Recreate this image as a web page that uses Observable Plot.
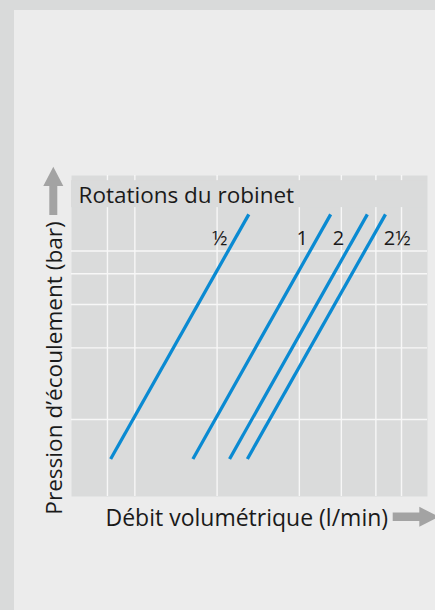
<!DOCTYPE html>
<html><head><meta charset="utf-8">
<script src="https://cdn.jsdelivr.net/npm/d3@7"></script>
<script src="https://cdn.jsdelivr.net/npm/@observablehq/plot@0.6"></script>
<style>
html,body{margin:0;padding:0;width:435px;height:610px;overflow:hidden;background:#d9dada;}
#panel{position:absolute;left:14px;top:10px;right:0;bottom:0;background:#ececec;}
#chart{position:absolute;left:0;top:0;}
</style></head><body><div id="panel"></div><div id="chart"></div>
<script>
// Data (arbitrary units 0–100 on both axes)
const series = ["½", "1", "2", "2½"];
const flowAtLow = [11.0, 34.1, 44.4, 49.4];
const flowAtHigh = [49.8, 72.8, 83.1, 88.2];
const pressureLow = 11.7;
const pressureHigh = 87.9;
const labelFlow = [41.6, 64.8, 75.0, 91.5];
const labelPressure = 80.4;
const xGridValues = [10.1, 17.8, 40.9, 64.0, 75.8, 85.5, 92.7];
const yGridValues = [24.0, 46.3, 59.8, 69.4, 76.5];
const title = "Rotations du robinet";
const xLabel = "Débit volumétrique (l/min)";
const yLabel = "Pression d’écoulement (bar)";

const rows = series.flatMap((s, i) => [
  {s, x: flowAtLow[i], y: pressureLow},
  {s, x: flowAtHigh[i], y: pressureHigh}
]);
const labels = series.map((s, i) => ({s, x: labelFlow[i], y: labelPressure}));

const plotBg = "#dadbdb";
const arrowColor = "#a3a3a3";
const font = "'Open Sans', sans-serif";

function arrows(index, scales, values, dims) {
  const g = d3.create("svg:g");
  const cx = dims.marginLeft - 17.7, tip = dims.marginTop - 8.3;
  g.append("path").attr("fill", arrowColor)
    .attr("d", `M${cx},${tip} L${cx+10},${tip+19.3} L${cx+4},${tip+19.3} L${cx+4},${tip+48.3} L${cx-4},${tip+48.3} L${cx-4},${tip+19.3} L${cx-10},${tip+19.3} Z`);
  const bottom = dims.height - dims.marginBottom;
  const cy = bottom + 20.8, x0 = 392.7, hb = 419.3;
  g.append("path").attr("fill", arrowColor)
    .attr("d", `M${x0},${cy-4.2} L${hb},${cy-4.2} L${hb},${cy-10} L${hb+19.5},${cy} L${hb},${cy+10} L${hb},${cy+4.2} L${x0},${cy+4.2} Z`);
  return g.node();
}

const chart = Plot.plot({
  width: 435, height: 610,
  marginLeft: 71, marginRight: 8, marginTop: 175, marginBottom: 114,
  style: {background: "transparent", fontFamily: font, color: "#1a1a1a"},
  x: {domain: [0, 100], axis: null},
  y: {domain: [0, 100], axis: null},
  marks: [
    Plot.frame({fill: plotBg, stroke: "none"}),
    Plot.ruleX(xGridValues, {stroke: "#f7f7f7", strokeWidth: 1.4}),
    Plot.ruleY(yGridValues, {stroke: "#f7f7f7", strokeWidth: 1.4}),
    Plot.rect([0], {x1: 0, x2: 100, y1: 90, y2: 98.4, fill: plotBg}),
    Plot.text([title], {frameAnchor: "top-left", dx: 7, dy: 27.7, lineAnchor: "bottom", textAnchor: "start", fontSize: 22.5, fill: "#1a1a1a"}),
    Plot.line(rows, {x: "x", y: "y", z: "s", stroke: "#0a8ad2", strokeWidth: 3.3, strokeLinecap: "butt"}),
    Plot.text(labels, {x: "x", y: "y", text: "s", fontSize: 20, lineAnchor: "middle", fill: "#1a1a1a"}),
    Plot.text([xLabel], {frameAnchor: "bottom-left", dx: 34, dy: 29, lineAnchor: "bottom", textAnchor: "start", fontSize: 23, fill: "#1a1a1a"}),
    Plot.text([yLabel], {frameAnchor: "left", dx: -17, dy: 32, rotate: -90, lineAnchor: "middle", textAnchor: "middle", fontSize: 22.6, fill: "#1a1a1a"}),
    arrows
  ]
});
document.getElementById("chart").append(chart);
</script></body></html>
